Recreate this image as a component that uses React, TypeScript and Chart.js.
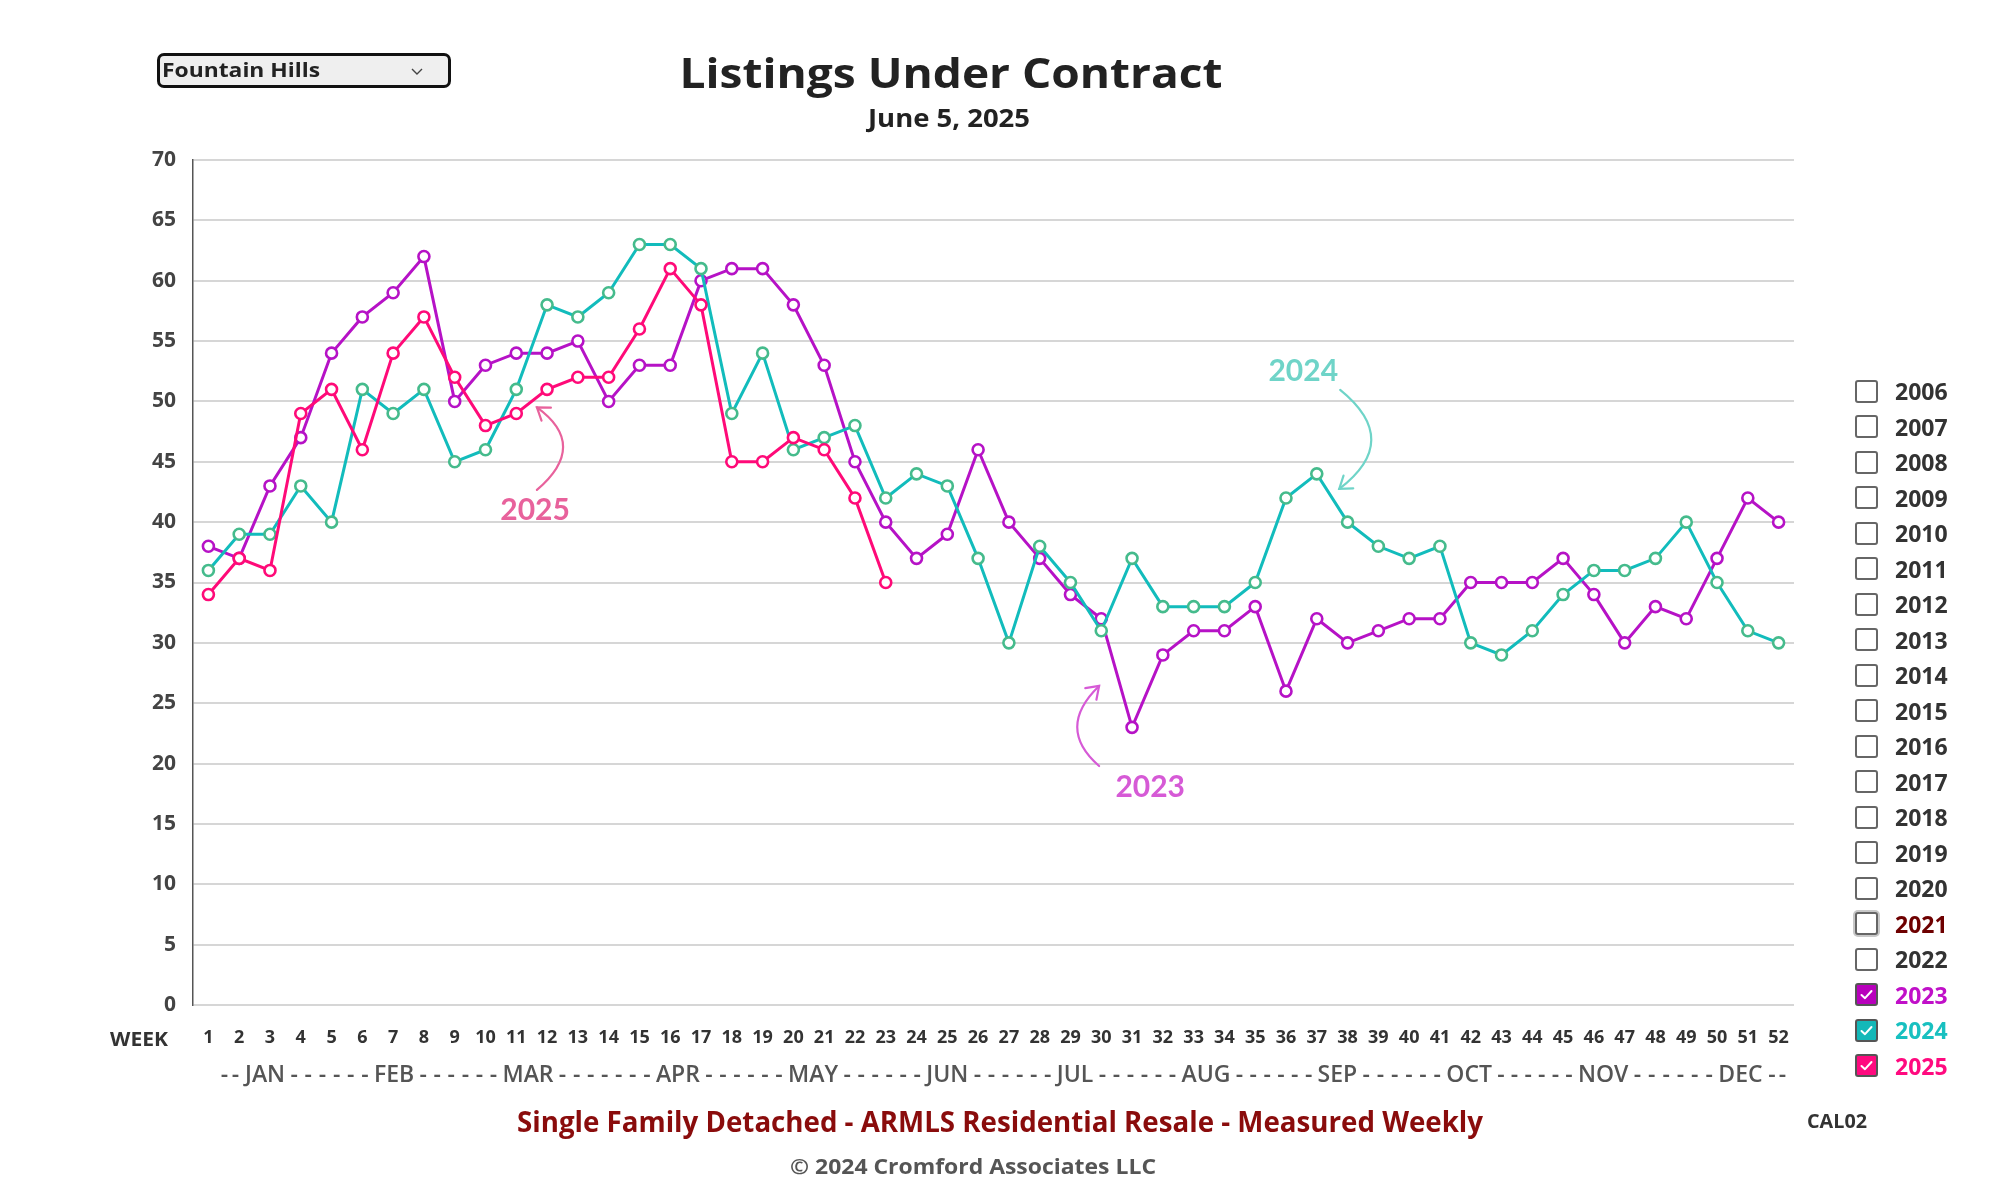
import React, { useEffect, useRef } from 'react';
import { Chart, registerables } from 'chart.js';

Chart.register(...registerables);

// ---------- DATA ----------
const WEEKS = ['1','2','3','4','5','6','7','8','9','10','11','12','13','14','15','16','17','18','19','20','21','22','23','24','25','26','27','28','29','30','31','32','33','34','35','36','37','38','39','40','41','42','43','44','45','46','47','48','49','50','51','52'];

const SERIES_2023 = [38, 37, 43, 47, 54, 57, 59, 62, 50, 53, 54, 54, 55, 50, 53, 53, 60, 61, 61, 58, 53, 45, 40, 37, 39, 46, 40, 37, 34, 32, 23, 29, 31, 31, 33, 26, 32, 30, 31, 32, 32, 35, 35, 35, 37, 34, 30, 33, 32, 37, 42, 40];
const SERIES_2024 = [36, 39, 39, 43, 40, 51, 49, 51, 45, 46, 51, 58, 57, 59, 63, 63, 61, 49, 54, 46, 47, 48, 42, 44, 43, 37, 30, 38, 35, 31, 37, 33, 33, 33, 35, 42, 44, 40, 38, 37, 38, 30, 29, 31, 34, 36, 36, 37, 40, 35, 31, 30];
const SERIES_2025 = [34, 37, 36, 49, 51, 46, 54, 57, 52, 48, 49, 51, 52, 52, 56, 61, 58, 45, 45, 47, 46, 42, 35];

const Y_MIN = 0;
const Y_MAX = 70;
const Y_STEP = 5;

const MONTHS = ['JAN', 'FEB', 'MAR', 'APR', 'MAY', 'JUN', 'JUL', 'AUG', 'SEP', 'OCT', 'NOV', 'DEC'];
const MONTH_CENTER_WEEK = [2.84, 7.03, 11.38, 16.25, 20.64, 25.0, 29.15, 33.4, 37.67, 41.95, 46.3, 50.76];
const MONTH_DASHES = [2, 6, 6, 7, 6, 6, 6, 6, 6, 6, 6, 6, 2];

const LEGEND_YEARS = ['2006','2007','2008','2009','2010','2011','2012','2013','2014','2015','2016','2017','2018','2019','2020','2021','2022','2023','2024','2025'];

const TITLE = 'Listings Under Contract';
const SUBTITLE = 'June 5, 2025';
const FOOTER = 'Single Family Detached - ARMLS Residential Resale - Measured Weekly';
const COPYRIGHT = '\u00A9 2024 Cromford Associates LLC';
const CODE = 'CAL02';
const AREA = 'Fountain Hills';

// ---------- STYLE ----------
const C2023 = '#b612c6';
const C2024 = '#12bcbc';
const C2024_PT = '#45bb8c';
const C2025 = '#ff0a78';
const FONT = '"Open Sans", "Noto Sans", sans-serif';

const LEGEND_STYLE: Record<string, { text: string; box?: string; shadow?: boolean }> = {
  '2021': { text: '#6e0000', shadow: true },
  '2023': { text: '#c010c8', box: '#b800bc' },
  '2024': { text: '#18c0c0', box: '#14b8b8' },
  '2025': { text: '#ff0a7f', box: '#ff0a7f' },
};

type Ann = { text: string; color: string; at: [number, number]; from: [number, number]; bulge: [number, number]; to: [number, number] };
const ANNOTATIONS: Ann[] = [
  { text: '2025', color: '#e8629c', at: [11.61, 41.0], from: [11.67, 42.67], bulge: [12.52, 46.23], to: [11.67, 49.5] },
  { text: '2024', color: '#6fd4c8', at: [36.56, 52.5], from: [37.76, 50.95], bulge: [38.77, 46.8], to: [37.73, 42.75] },
  { text: '2023', color: '#d65ad6', at: [31.59, 18.06], from: [29.93, 19.8], bulge: [29.22, 23.03], to: [29.93, 26.43] },
];

function drawText(ctx: CanvasRenderingContext2D, str: string, cx: number, cy: number, font: string, color: string, width?: number) {
  ctx.save();
  ctx.font = font;
  ctx.fillStyle = color;
  ctx.textAlign = 'center';
  ctx.textBaseline = 'middle';
  const w = ctx.measureText(str).width;
  const sx = width ? width / w : 1;
  ctx.translate(cx, cy);
  ctx.scale(sx, 1);
  ctx.fillText(str, 0, 0);
  ctx.restore();
  return w * sx;
}

const overlayPlugin = {
  id: 'overlay',
  afterDraw(chart: any) {
    const ctx: CanvasRenderingContext2D = chart.ctx;
    const xs = chart.scales.x;
    const ys = chart.scales.y;
    const px = (w: number) => xs.getPixelForValue(w - 1);
    const py = (v: number) => ys.getPixelForValue(v);

    // titles
    drawText(ctx, TITLE, 951, 76, `700 42px ${FONT}`, '#222', 543);
    drawText(ctx, SUBTITLE, 949, 120, `700 25px ${FONT}`, '#222', 162);

    // WEEK label
    drawText(ctx, 'WEEK', 139, 1040, `700 20px ${FONT}`, '#333', 58);

    // month row
    const my = 1075;
    const mfont = `600 23px ${FONT}`;
    ctx.save();
    ctx.font = mfont;
    const edges: [number, number][] = [];
    MONTHS.forEach((m, i) => {
      const cx = px(MONTH_CENTER_WEEK[i]);
      const w = ctx.measureText(m).width;
      edges.push([cx - w / 2, cx + w / 2]);
    });
    ctx.restore();
    MONTHS.forEach((m, i) => {
      const cx = px(MONTH_CENTER_WEEK[i]);
      drawText(ctx, m, cx, my, mfont, '#555');
    });
    const rowStart = px(1.34);
    const rowEnd = px(52.3);
    const segs: [number, number][] = [];
    segs.push([rowStart, edges[0][0] - 4]);
    for (let i = 0; i < MONTHS.length - 1; i++) segs.push([edges[i][1] + 2, edges[i + 1][0] - 2]);
    segs.push([edges[MONTHS.length - 1][1] + 4, rowEnd]);
    segs.forEach((s, i) => {
      const n = MONTH_DASHES[i];
      const step = (s[1] - s[0]) / n;
      for (let k = 0; k < n; k++) drawText(ctx, '-', s[0] + step * (k + 0.5), my, mfont, '#555');
    });

    // footers
    drawText(ctx, FOOTER, 1000, 1124, `700 28px ${FONT}`, '#8a0c0c', 966);
    drawText(ctx, CODE, 1837, 1123, `700 19px ${FONT}`, '#333', 60);
    drawText(ctx, COPYRIGHT, 973, 1168, `700 22px ${FONT}`, '#555', 366);

    // annotations
    ANNOTATIONS.forEach((a) => {
      drawText(ctx, a.text, px(a.at[0]), py(a.at[1]), `700 30px Lato, ${FONT}`, a.color);
      const x0 = px(a.from[0]), y0 = py(a.from[1]);
      const x2 = px(a.to[0]), y2 = py(a.to[1]);
      const bx = px(a.bulge[0]), by = py(a.bulge[1]);
      const cx = 2 * bx - (x0 + x2) / 2;
      const cy = 2 * by - (y0 + y2) / 2;
      ctx.save();
      ctx.strokeStyle = a.color;
      ctx.lineWidth = 2.2;
      ctx.lineCap = 'round';
      ctx.beginPath();
      ctx.moveTo(x0, y0);
      ctx.quadraticCurveTo(cx, cy, x2, y2);
      ctx.stroke();
      const dx = cx - x2, dy = cy - y2;
      const len = Math.hypot(dx, dy) || 1;
      const ang = Math.atan2(dy / len, dx / len);
      const hl = 14;
      const spread = (35 * Math.PI) / 180;
      ctx.beginPath();
      ctx.moveTo(x2 + hl * Math.cos(ang - spread), y2 + hl * Math.sin(ang - spread));
      ctx.lineTo(x2, y2);
      ctx.lineTo(x2 + hl * Math.cos(ang + spread), y2 + hl * Math.sin(ang + spread));
      ctx.stroke();
      ctx.restore();
    });
  },
};

const measureCtx = typeof document !== 'undefined' ? document.createElement('canvas').getContext('2d') : null;
function fitScale(text: string, font: string, target: number) {
  if (!measureCtx) return 1;
  measureCtx.font = font;
  const w = measureCtx.measureText(text).width;
  return w > 0 ? target / w : 1;
}

function Checkbox({ year, index }: { year: string; index: number }) {
  const st = LEGEND_STYLE[year];
  const checked = !!(st && st.box);
  const top = 391 + index * 35.5;
  return (
    <div style={{ position: 'absolute', left: 1855, top: top - 12, height: 24, display: 'flex', alignItems: 'center' }}>
      <div
        style={{
          width: 23,
          height: 23,
          boxSizing: 'border-box',
          border: `2px solid ${checked ? '#555' : '#666'}`,
          borderRadius: 3,
          background: checked ? st!.box : '#fff',
          boxShadow: st && st.shadow ? '0 0 0 2px #c8c8c8' : 'none',
          position: 'relative',
        }}
      >
        {checked && (
          <svg width="19" height="19" viewBox="0 0 19 19" style={{ position: 'absolute', left: 0, top: 0 }}>
            <polyline points="4.5,10 8,13.2 14.5,6" fill="none" stroke="#fff" strokeWidth="2" strokeLinecap="round" strokeLinejoin="round" />
          </svg>
        )}
      </div>
      <div
        style={{
          marginLeft: 17,
          font: `700 23px ${FONT}`,
          color: st ? st.text : '#333',
          lineHeight: '24px',
        }}
      >
        {year}
      </div>
    </div>
  );
}

export default function App() {
  const ref = useRef<HTMLCanvasElement | null>(null);

  useEffect(() => {
    if (!ref.current) return;
    const common = {
      pointBackgroundColor: '#fff',
      borderWidth: 3,
      pointRadius: 5.5,
      pointBorderWidth: 2.6,
      tension: 0,
    };
    const chart = new Chart(ref.current, {
      type: 'line',
      data: {
        labels: WEEKS,
        datasets: [
          { label: '2025', data: SERIES_2025, borderColor: C2025, backgroundColor: C2025, pointBorderColor: C2025, ...common },
          { label: '2024', data: SERIES_2024, borderColor: C2024, backgroundColor: C2024, pointBorderColor: C2024_PT, ...common },
          { label: '2023', data: SERIES_2023, borderColor: C2023, backgroundColor: C2023, pointBorderColor: C2023, ...common },
        ],
      },
      options: {
        responsive: false,
        animation: false,
        layout: { padding: { left: 0, right: 206, top: 160, bottom: 0 } },
        plugins: {
          legend: { display: false },
          tooltip: { enabled: false },
          title: { display: false },
        },
        scales: {
          x: {
            type: 'category',
            offset: true,
            grid: { display: false, drawTicks: false },
            border: { display: false },
            ticks: {
              autoSkip: false,
              maxRotation: 0,
              minRotation: 0,
              padding: 22,
              color: '#333',
              font: { family: FONT, size: 18, weight: 'bold' },
            },
            afterFit: (s: any) => {
              s.height = 195;
            },
          },
          y: {
            min: Y_MIN,
            max: Y_MAX,
            ticks: {
              stepSize: Y_STEP,
              padding: 17,
              color: '#444',
              font: { family: FONT, size: 21, weight: 'bold' },
            },
            grid: { color: '#d6d6d6', lineWidth: 2, drawTicks: false },
            border: { display: true, color: '#555', width: 1.5 },
            afterFit: (s: any) => {
              s.width = 193;
            },
          },
        },
      } as any,
      plugins: [overlayPlugin],
    });
    return () => chart.destroy();
  }, []);

  const ddFont = `700 20px ${FONT}`;
  const ddScale = fitScale(AREA, ddFont, 158);

  return (
    <div style={{ position: 'absolute', left: 0, top: 0, width: 2000, height: 1200, background: '#fff', overflow: 'hidden' }}>
      <canvas ref={ref} width={2000} height={1200} style={{ position: 'absolute', left: 0, top: 0, width: 2000, height: 1200 }} />
      <div
        style={{
          position: 'absolute',
          left: 157,
          top: 53,
          width: 294,
          height: 35,
          boxSizing: 'border-box',
          border: '3px solid #111',
          borderRadius: 7,
          background: '#efefef',
        }}
      >
        <div
          style={{
            position: 'absolute',
            left: 2,
            top: 0,
            height: 29,
            lineHeight: '29px',
            font: ddFont,
            color: '#222',
            whiteSpace: 'nowrap',
            transform: `scaleX(${ddScale})`,
            transformOrigin: 'left center',
          }}
        >
          {AREA}
        </div>
        <svg width="12" height="8" viewBox="0 0 12 8" style={{ position: 'absolute', left: 251, top: 12 }}>
          <polyline points="1,1 6,6 11,1" fill="none" stroke="#444" strokeWidth="1.4" />
        </svg>
      </div>
      {LEGEND_YEARS.map((y, i) => (
        <Checkbox key={y} year={y} index={i} />
      ))}
    </div>
  );
}
